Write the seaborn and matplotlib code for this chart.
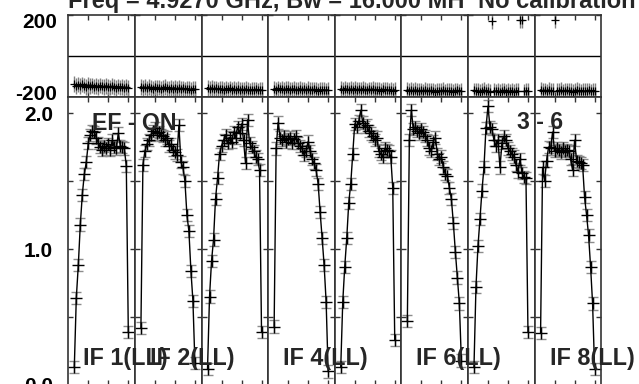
import numpy as np
import pandas as pd
import matplotlib
matplotlib.use("Agg")
import matplotlib.pyplot as plt
import matplotlib.transforms as mtransforms
import seaborn as sns

# channels per IF
channels = list(range(28))
tick_channels = [7, 17, 27]

# amplitude per IF
amp_if1 = [0.13, 0.64, 0.88, 1.18, 1.40, 1.55, 1.64, 1.78, 1.84, 1.87, 1.86, 1.82, 1.78, 1.75,
           1.73, 1.76, 1.74, 1.77, 1.73, 1.80, 1.75, 1.74, 1.85, 1.76, 1.75, 1.74, 1.61, 0.39]
amp_if2 = [0.42, 1.62, 1.72, 1.77, 1.80, 1.84, 1.87, 1.89, 1.85, 1.86, 1.84, 1.83, 1.80, 1.82,
           1.76, 1.77, 1.73, 1.71, 1.69, 1.91, 1.64, 1.60, 1.50, 1.25, 1.13, 0.84, 0.62, 0.16]
amp_if3 = [0.12, 0.65, 0.91, 1.07, 1.37, 1.52, 1.70, 1.76, 1.80, 1.84, 1.78, 1.82, 1.79, 1.86,
           1.82, 1.90, 1.85, 1.92, 1.80, 1.63, 1.95, 1.78, 1.75, 1.72, 1.68, 1.66, 1.58, 0.39]
amp_if4 = [0.43, 1.74, 1.93, 1.82, 1.80, 1.83, 1.79, 1.81, 1.82, 1.78, 1.81, 1.83, 1.78, 1.76,
           1.74, 1.69, 1.72, 1.79, 1.72, 1.66, 1.63, 1.58, 1.48, 1.27, 1.08, 0.88, 0.61, 0.10]
amp_if5 = [0.13, 0.61, 0.87, 1.08, 1.34, 1.48, 1.70, 1.92, 1.90, 1.94, 2.02, 1.93, 1.90, 1.91,
           1.87, 1.85, 1.83, 1.80, 1.82, 1.72, 1.70, 1.68, 1.74, 1.73, 1.72, 1.68, 1.45, 0.33]
amp_if6 = [0.47, 1.80, 2.02, 1.88, 1.90, 1.87, 1.85, 1.88, 1.86, 1.83, 1.80, 1.74, 1.72, 1.79,
           1.82, 1.70, 1.66, 1.68, 1.60, 1.55, 1.54, 1.45, 1.37, 1.19, 0.98, 0.79, 0.60, 0.18]
amp_if7 = [0.13, 0.72, 1.02, 1.22, 1.43, 1.60, 1.89, 2.05, 1.90, 1.88, 1.80, 1.76, 1.80, 1.60,
           1.78, 1.83, 1.80, 1.74, 1.72, 1.70, 1.68, 1.62, 1.57, 1.66, 1.56, 1.53, 1.52, 0.39]
amp_if8 = [0.38, 1.60, 1.50, 1.65, 1.75, 1.74, 1.86, 1.72, 1.74, 1.73, 1.71, 1.74, 1.72, 1.73,
           1.72, 1.66, 1.58, 1.80, 1.65, 1.64, 1.63, 1.62, 1.38, 1.25, 1.10, 0.87, 0.60, 0.12]

# phase per IF (degrees)
phase_if1 = [-138, -145, -140, -147, -139, -144, -150, -141, -146, -143, -149, -145, -151, -144,
             -148, -152, -146, -150, -153, -147, -151, -155, -149, -153, -150, -156, -152, -155]
phase_if2 = [-150, -156, -152, -158, -151, -155, -159, -153, -157, -154, -160, -156, -152, -158,
             -161, -155, -159, -156, -162, -157, -160, -158, -163, -159, -161, -164, -160, -162]
phase_if3 = [-155, -160, -157, -162, -158, -163, -159, -161, -165, -160, -163, -158, -164, -162,
             -166, -161, -165, -163, -167, -162, -165, -168, -164, -166, -163, -168, -165, -167]
phase_if4 = [-160, -164, -158, -163, -161, -166, -162, -159, -165, -163, -161, -167, -164, -160,
             -166, -163, -168, -162, -165, -167, -163, -166, -169, -164, -167, -165, -168, -166]
phase_if5 = [-161, -165, -159, -163, -166, -162, -164, -160, -167, -163, -165, -161, -166, -168,
             -163, -165, -162, -167, -164, -166, -169, -163, -167, -165, -168, -164, -170, -166]
phase_if6 = [-165, -170, -167, -172, -166, -169, -171, -168, -173, -167, -170, -172, -168, -171,
             -174, -169, -172, -170, -167, -173, -170, -172, -169, -174, -171, -168, -173, -170]
phase_if7 = [-168, -172, -169, -174, -170, -167, -173, -171, -175, 172, -169, -173, -170, -176,
             -172, -168, -174, -171, -173, -169, -175, -172, -170, 175, 174, -173, -171, -170]
phase_if8 = [-166, -171, -168, -173, -167, -170, -172, 174, -169, -171, -167, -173, -170, -168,
             -172, -169, -174, -170, -167, -171, -173, -169, -172, -170, -168, -173, -171, -169]

amp_err = 0.045
phase_err = 38

amps = [amp_if1, amp_if2, amp_if3, amp_if4, amp_if5, amp_if6, amp_if7, amp_if8]
phases = [phase_if1, phase_if2, phase_if3, phase_if4, phase_if5, phase_if6, phase_if7, phase_if8]
if_labels = {0: "IF 1(LL)", 1: "IF 2(LL)", 3: "IF 4(LL)", 5: "IF 6(LL)", 7: "IF 8(LL)"}

rows = []
for i in range(8):
    for c in channels:
        rows.append({"IF": i + 1, "channel": c, "amp": amps[i][c], "phase": phases[i][c]})
df = pd.DataFrame(rows)

sns.set_theme(style="white")
plt.rcParams["font.family"] = ["Liberation Sans", "DejaVu Sans"]
plt.rcParams["font.weight"] = "bold"

W, H = 639, 384
fig = plt.figure(figsize=(W / 100, H / 100), dpi=100)

x0 = 68.3
pw = 66.61
top_y0, top_y1 = 15, 97
bot_y1 = 385

def set_frame(ax):
    for s in ax.spines.values():
        s.set_color("#333333")
        s.set_linewidth(1.2)
    ax.set_xlim(-3, 30.3)
    ax.set_xticks(tick_channels)
    ax.tick_params(axis="both", direction="in", length=3.6, width=1, color="#333333",
                   top=True, right=True, bottom=True, left=True,
                   labelbottom=False, labelsize=15, labelcolor="black")
    ax.set_xlabel("")
    ax.set_ylabel("")

for i in range(8):
    sub = df[df["IF"] == i + 1]
    left = (x0 + pw * i) / W
    ax_p = fig.add_axes([left, 1 - top_y1 / H, pw / W, (top_y1 - top_y0) / H])
    ax_a = fig.add_axes([left, 1 - bot_y1 / H, pw / W, (bot_y1 - top_y1) / H])

    # phase panel
    ph = sub["phase"].to_numpy(dtype=float)
    ax_p.axhline(0, color="black", lw=1)
    ax_p.errorbar(sub["channel"], ph, yerr=phase_err, fmt="none", ecolor="0.5", elinewidth=1)
    med = np.median(ph)
    ph_line = np.where(np.abs(ph - med) > 90, np.nan, ph)
    ax_p.plot(sub["channel"], ph_line, color="black", lw=1.2)
    ax_p.plot(sub["channel"], ph, ls="none", marker="+", ms=6, mec="black", mew=0.9)
    ax_p.set_ylim(-200, 200)
    set_frame(ax_p)
    ax_p.set_yticks([-200, 200])
    if i == 0:
        ax_p.set_yticklabels(["-200", "200"])
        ax_p.tick_params(axis="y", pad=8)
        labs = ax_p.get_yticklabels()
        labs[0].set_transform(labs[0].get_transform() +
                              mtransforms.ScaledTranslation(0, 4 / 100, fig.dpi_scale_trans))
        labs[1].set_transform(labs[1].get_transform() +
                              mtransforms.ScaledTranslation(0, -5 / 100, fig.dpi_scale_trans))
    else:
        ax_p.set_yticklabels([])

    # amplitude panel
    ax_a.errorbar(sub["channel"], sub["amp"], yerr=amp_err, fmt="none", ecolor="0.55",
                  elinewidth=1, capsize=3.5, capthick=1)
    sns.lineplot(data=sub, x="channel", y="amp", ax=ax_a, color="black", lw=1,
                 marker="+", markersize=8, markeredgecolor="black", markeredgewidth=1,
                 estimator=None, sort=False, legend=False)
    ax_a.set_ylim(0, 2.118)
    set_frame(ax_a)
    ax_a.set_yticks([0, 0.5, 1.0, 1.5, 2.0])
    if i == 0:
        ax_a.set_yticklabels(["0.0", "", "1.0", "", "2.0"])
        ax_a.tick_params(axis="y", pad=11)
    else:
        ax_a.set_yticklabels([])

# IF labels drawn on the figure so later panels do not hide them
for i, lab in if_labels.items():
    fig.text((x0 + pw * i + 15) / W, 1 - 365 / H, lab, fontsize=16.8,
             fontweight="bold", va="baseline", ha="left", zorder=10)

fig.text(68 / W, 1 - 8 / H, "Freq = 4.9270 GHz, Bw = 16.000 MH", fontsize=17,
         fontweight="bold", va="baseline", ha="left")
fig.text(636 / W, 1 - 8 / H, "No calibration", fontsize=17,
         fontweight="bold", va="baseline", ha="right")
fig.text(92 / W, 1 - 130 / H, "EF - ON", fontsize=16.7, fontweight="bold",
         va="baseline", ha="left", zorder=10)
fig.text(517 / W, 1 - 129 / H, "3 - 6", fontsize=16.7, fontweight="bold",
         va="baseline", ha="left", zorder=10)

fig.savefig("out.png", dpi=100)
